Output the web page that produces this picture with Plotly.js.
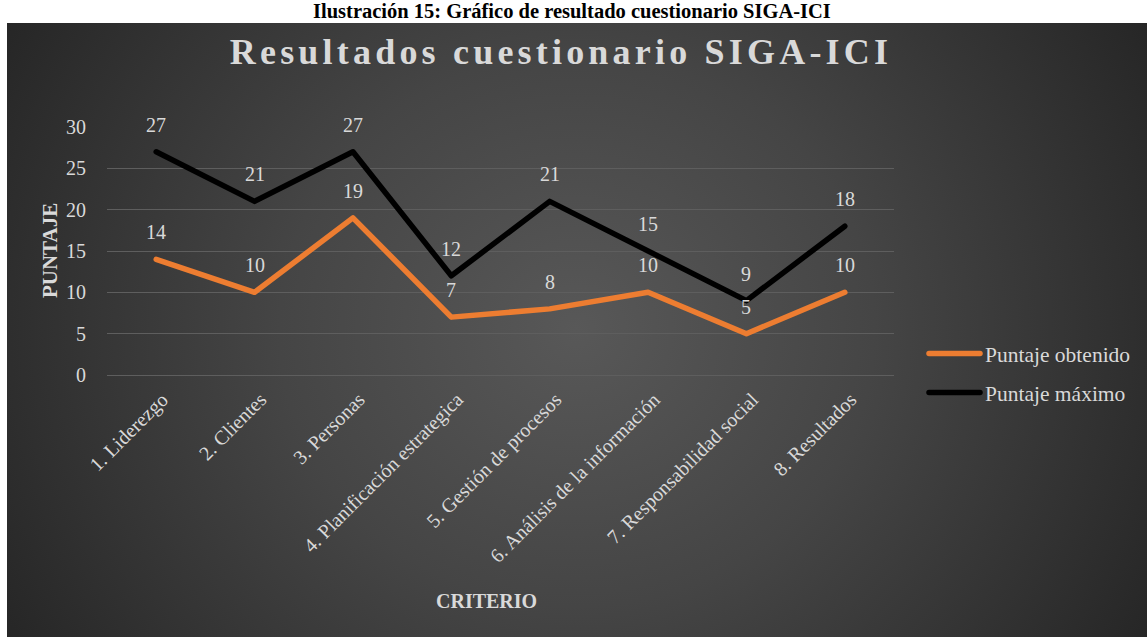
<!DOCTYPE html>
<html>
<head>
<meta charset="utf-8">
<script src="https://cdn.plot.ly/plotly-3.0.1.min.js"></script>
<style>
  html, body { margin: 0; padding: 0; background: #ffffff; }
  #wrap { position: relative; width: 1147px; height: 637px; background: #ffffff; overflow: hidden; }
  #bg { position: absolute; left: 7px; top: 23px; width: 1140px; height: 614px;
        background: radial-gradient(ellipse 58% 100% at 50% 50%, #585858 0%, #454545 45%, #262626 100%); }
  #chart { position: absolute; left: 0; top: 0; width: 1147px; height: 637px; }
  .gtitle { letter-spacing: 4.2px; }
  .js-line { stroke-linecap: round; stroke-linejoin: round; }
</style>
</head>
<body>
<div id="wrap"><div id="bg"></div><div id="chart"></div></div>
<script>
const categories = [
  "1. Liderezgo",
  "2. Clientes",
  "3. Personas",
  "4. Planificación estrategica",
  "5. Gestión de procesos",
  "6. Análisis de la información",
  "7. Responsabilidad social",
  "8. Resultados"
];
const puntajeObtenido = [14, 10, 19, 7, 8, 10, 5, 10];
const puntajeMaximo = [27, 21, 27, 12, 21, 15, 9, 18];
const seriesNames = ["Puntaje obtenido", "Puntaje máximo"];
const yTicks = [0, 5, 10, 15, 20, 25, 30];

const W = 1147, H = 637;
const L = 107, R = 895, T = 127, B = 375;
const px2x = p => (p - L) / (R - L);
const py2y = p => (B - p) / (B - T);
const serif = "Liberation Serif, Times New Roman, serif";
const txt = "#d9d9d9";

const traces = [
  { x: categories, y: puntajeObtenido, name: seriesNames[0], type: "scatter", mode: "lines",
    line: { color: "#ED7D31", width: 5.5 }, legendgroup: "a", hoverinfo: "skip" },
  { x: categories, y: puntajeMaximo, name: seriesNames[1], type: "scatter", mode: "lines",
    line: { color: "#000000", width: 5.5 }, legendgroup: "b", hoverinfo: "skip" }
];

const annotations = [];
[puntajeObtenido, puntajeMaximo].forEach(vals => {
  vals.forEach((v, i) => {
    annotations.push({ x: categories[i], y: v, xref: "x", yref: "y", text: String(v),
      showarrow: false, yshift: 27, xanchor: "center", yanchor: "middle",
      font: { family: serif, size: 20, color: txt } });
  });
});
annotations.push({ x: px2x(573), y: py2y(11), xref: "paper", yref: "paper",
  text: "<b>Ilustración 15: Gráfico de resultado cuestionario SIGA-ICI</b>", showarrow: false,
  xanchor: "center", yanchor: "middle", font: { family: serif, size: 20.5, color: "#000000" } });
annotations.push({ x: px2x(50), y: py2y(251), xref: "paper", yref: "paper",
  text: "<b>PUNTAJE</b>", showarrow: false, textangle: -90,
  xanchor: "center", yanchor: "middle", font: { family: serif, size: 21, color: txt } });
annotations.push({ x: px2x(487), y: py2y(601), xref: "paper", yref: "paper",
  text: "<b>CRITERIO</b>", showarrow: false,
  xanchor: "center", yanchor: "middle", font: { family: serif, size: 20, color: txt } });

const layout = {
  width: W, height: H,
  margin: { l: L, r: W - R, t: T, b: H - B, pad: 0 },
  paper_bgcolor: "rgba(0,0,0,0)", plot_bgcolor: "rgba(0,0,0,0)",
  title: { text: "<b>Resultados cuestionario SIGA-ICI</b>", xref: "container", yref: "container",
    x: 561 / W, y: 1 - 51 / H, xanchor: "center", yanchor: "middle",
    font: { family: serif, size: 36, color: "#d9d9d9" } },
  xaxis: { type: "category", range: [-0.5, 7.5], showgrid: false, zeroline: false, showline: false,
    tickangle: -45, ticks: "outside", ticklen: 4, tickcolor: "rgba(0,0,0,0)", ticklabelshift: 6,
    tickfont: { family: serif, size: 20, color: txt }, automargin: false, fixedrange: true },
  yaxis: { range: [0, 30], tickvals: yTicks, showgrid: true, gridcolor: "#5e5e5e", gridwidth: 1,
    zeroline: true, zerolinecolor: "#5e5e5e", zerolinewidth: 1, showline: false,
    ticks: "outside", ticklen: 16, tickcolor: "rgba(0,0,0,0)",
    tickfont: { family: serif, size: 20, color: txt }, automargin: false, fixedrange: true },
  showlegend: true,
  legend: { x: px2x(924), y: py2y(333), xanchor: "left", yanchor: "top", xref: "paper", yref: "paper",
    bgcolor: "rgba(0,0,0,0)", borderwidth: 0, tracegroupgap: 8, traceorder: "grouped",
    font: { family: serif, size: 21.5, color: txt }, itemwidth: 51 },
  annotations: annotations
};

Plotly.newPlot("chart", traces, layout, { displayModeBar: false, staticPlot: true });
</script>
</body>
</html>
